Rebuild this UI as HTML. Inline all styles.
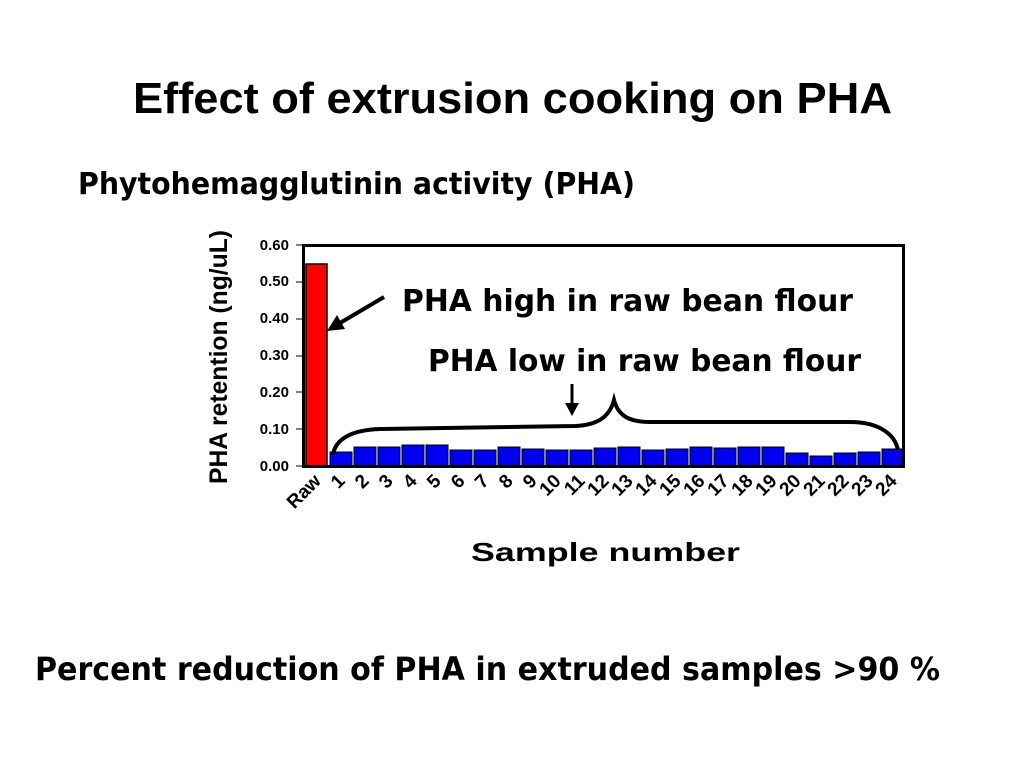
<!DOCTYPE html>
<html><head><meta charset="utf-8"><style>
html,body{margin:0;padding:0;background:#fff;}
svg{display:block;}
</style></head><body>
<svg width="1024" height="768" viewBox="0 0 1024 768" xmlns="http://www.w3.org/2000/svg">
<rect width="1024" height="768" fill="#fff"/>
<text x="133" y="113" font-family="Liberation Sans, sans-serif" font-weight="bold" font-size="44" textLength="759" lengthAdjust="spacingAndGlyphs">Effect of extrusion cooking on PHA</text>
<text x="78" y="194" font-family="DejaVu Sans, sans-serif" font-weight="bold" font-size="30" textLength="557" lengthAdjust="spacingAndGlyphs">Phytohemagglutinin activity (PHA)</text>
<text x="35" y="680" font-family="DejaVu Sans, sans-serif" font-weight="bold" font-size="32" textLength="905" lengthAdjust="spacingAndGlyphs">Percent reduction of PHA  in extruded samples &gt;90 %</text>

<!-- y axis ticks -->
<g font-family="Liberation Sans, sans-serif" font-weight="bold" font-size="15" text-anchor="end">
<text x="289" y="471">0.00</text>
<text x="289" y="434">0.10</text>
<text x="289" y="397">0.20</text>
<text x="289" y="360">0.30</text>
<text x="289" y="323">0.40</text>
<text x="289" y="286">0.50</text>
<text x="289" y="250">0.60</text>
</g>
<text transform="translate(227,357) rotate(-90)" text-anchor="middle" font-family="Liberation Sans, sans-serif" font-weight="bold" font-size="25" textLength="254" lengthAdjust="spacingAndGlyphs">PHA retention (ng/uL)</text>

<!-- bars -->
<rect x="306" y="264" width="21" height="202" fill="#ff0000" stroke="#000" stroke-width="1.5"/>
<g fill="#0000ee" stroke="#000" stroke-width="1">
<rect x="330" y="452" width="22" height="14"/>
<rect x="354" y="447" width="22" height="19"/>
<rect x="378" y="447" width="22" height="19"/>
<rect x="402" y="445" width="22" height="21"/>
<rect x="426" y="445" width="22" height="21"/>
<rect x="450" y="450" width="22" height="16"/>
<rect x="474" y="450" width="22" height="16"/>
<rect x="498" y="447" width="22" height="19"/>
<rect x="522" y="449" width="22" height="17"/>
<rect x="546" y="450" width="22" height="16"/>
<rect x="570" y="450" width="22" height="16"/>
<rect x="594" y="448" width="22" height="18"/>
<rect x="618" y="447" width="22" height="19"/>
<rect x="642" y="450" width="22" height="16"/>
<rect x="666" y="449" width="22" height="17"/>
<rect x="690" y="447" width="22" height="19"/>
<rect x="714" y="448" width="22" height="18"/>
<rect x="738" y="447" width="22" height="19"/>
<rect x="762" y="447" width="22" height="19"/>
<rect x="786" y="453" width="22" height="13"/>
<rect x="810" y="456" width="22" height="10"/>
<rect x="834" y="453" width="22" height="13"/>
<rect x="858" y="452" width="22" height="14"/>
<rect x="882" y="449" width="21" height="17"/>
</g>
<rect x="303.5" y="245.5" width="600" height="221" fill="none" stroke="#000" stroke-width="3"/>
<g stroke="#000" stroke-width="1">
<line x1="296" y1="466" x2="303" y2="466"/><line x1="296" y1="429" x2="303" y2="429"/><line x1="296" y1="392" x2="303" y2="392"/><line x1="296" y1="356" x2="303" y2="356"/><line x1="296" y1="319" x2="303" y2="319"/><line x1="296" y1="282" x2="303" y2="282"/><line x1="296" y1="245" x2="303" y2="245"/>
</g>

<!-- x tick labels -->
<g font-family="Liberation Sans, sans-serif" font-weight="bold" font-size="19" text-anchor="end">
<text transform="translate(322,482) rotate(-45)">Raw</text>
<text transform="translate(346,482) rotate(-45)">1</text>
<text transform="translate(370,482) rotate(-45)">2</text>
<text transform="translate(394,482) rotate(-45)">3</text>
<text transform="translate(418,482) rotate(-45)">4</text>
<text transform="translate(442,482) rotate(-45)">5</text>
<text transform="translate(466,482) rotate(-45)">6</text>
<text transform="translate(490,482) rotate(-45)">7</text>
<text transform="translate(514,482) rotate(-45)">8</text>
<text transform="translate(538,482) rotate(-45)">9</text>
<text transform="translate(562,482) rotate(-45)">10</text>
<text transform="translate(586,482) rotate(-45)">11</text>
<text transform="translate(610,482) rotate(-45)">12</text>
<text transform="translate(634,482) rotate(-45)">13</text>
<text transform="translate(658,482) rotate(-45)">14</text>
<text transform="translate(682,482) rotate(-45)">15</text>
<text transform="translate(706,482) rotate(-45)">16</text>
<text transform="translate(730,482) rotate(-45)">17</text>
<text transform="translate(754,482) rotate(-45)">18</text>
<text transform="translate(778,482) rotate(-45)">19</text>
<text transform="translate(802,482) rotate(-45)">20</text>
<text transform="translate(826,482) rotate(-45)">21</text>
<text transform="translate(850,482) rotate(-45)">22</text>
<text transform="translate(874,482) rotate(-45)">23</text>
<text transform="translate(898,482) rotate(-45)">24</text>
</g>
<text x="471" y="561" font-family="Liberation Sans, sans-serif" font-weight="bold" font-size="26" textLength="269" lengthAdjust="spacingAndGlyphs">Sample number</text>

<!-- annotations -->
<text x="402" y="311" font-family="DejaVu Sans, sans-serif" font-weight="bold" font-size="30" textLength="451" lengthAdjust="spacingAndGlyphs">PHA high in raw bean flour</text>
<text x="428" y="371" font-family="DejaVu Sans, sans-serif" font-weight="bold" font-size="30" textLength="433" lengthAdjust="spacingAndGlyphs">PHA low in raw bean flour</text>
<line x1="384" y1="297" x2="340" y2="323" stroke="#000" stroke-width="4"/>
<polygon points="327,331 337,315 345,329" fill="#000"/>
<line x1="572" y1="384" x2="572" y2="405" stroke="#000" stroke-width="3"/>
<polygon points="565,403 579,403 572,416" fill="#000"/>
<path d="M333,455 C335,440 350,430 380,429 L575,426 C600,425 610,415 614,400 C618,415 628,422 650,422 L850,422 C880,422 895,435 898,450" fill="none" stroke="#000" stroke-width="4"/>
</svg>
</body></html>
